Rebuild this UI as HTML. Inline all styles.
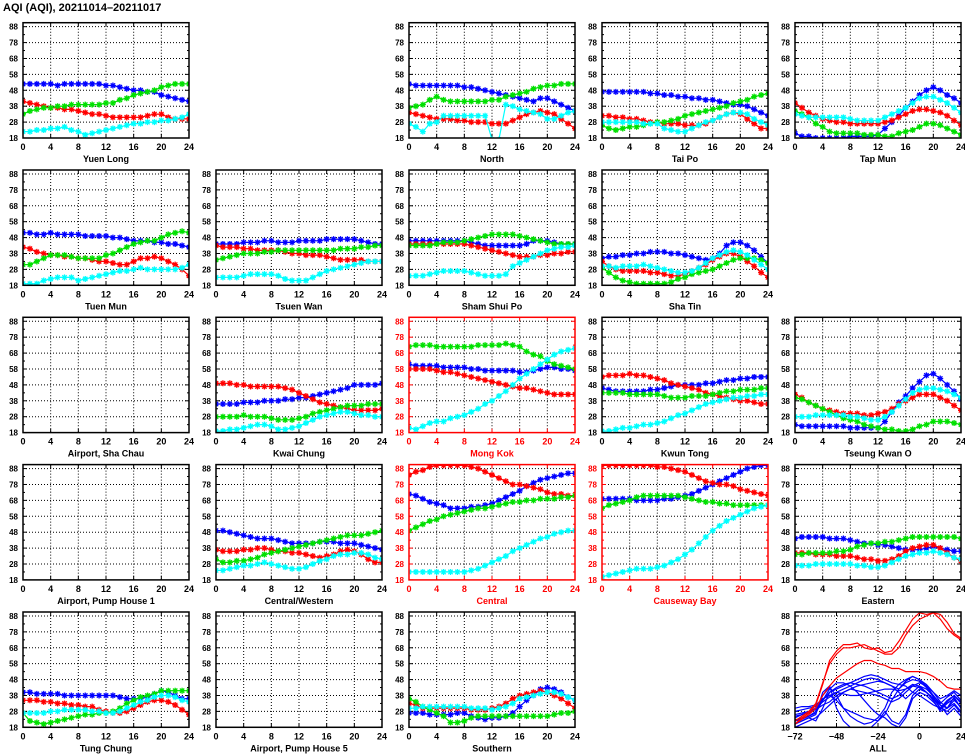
<!DOCTYPE html>
<html><head><meta charset="utf-8"><style>
html,body{margin:0;padding:0;background:#fff;}
svg{display:block;font-family:"Liberation Sans",sans-serif;}
</style></head><body>
<svg id="chart" width="965" height="755" viewBox="0 0 965 755">
<text x="3" y="11" font-size="11" font-weight="bold">AQI (AQI), 20211014–20211017</text>
</svg>
<script>
const hours=[0,1,2,3,4,5,6,7,8,9,10,11,12,13,14,15,16,17,18,19,20,21,22,23,24];
const yTicks=[18,28,38,48,58,68,78,88];
const xTicks=[0,4,8,12,16,20,24];
const allXTicks=[-72,-48,-24,0,24];
const allHours=[-72,-68,-64,-60,-56,-52,-48,-44,-40,-36,-32,-28,-24,-20,-16,-12,-8,-4,0,4,8,12,16,20,24];

const yuenLongB=[52,52,52,52,52,51,52,52,52,52,52,52,51,51,50,49,48,48,47,47,45,44,43,42,41];
const yuenLongR=[41,40,39,38,37,37,36,36,35,34,33,33,32,31,31,31,31,31,32,33,33,31,30,30,30];
const yuenLongG=[33,35,36,37,37,38,38,39,39,39,39,39,40,40,42,43,45,46,47,48,50,51,52,52,52];
const yuenLongC=[22,22,23,23,24,24,25,23,22,20,21,22,23,24,25,26,27,27,28,28,29,29,30,31,33];
const northB=[52,51,51,51,51,51,51,51,50,50,49,48,47,46,45,44,43,42,41,43,43,41,39,37,35];
const northR=[34,33,32,31,30,30,30,29,29,28,28,28,27,27,27,29,31,33,34,35,34,33,30,27,24];
const northG=[37,38,39,42,44,42,41,41,41,41,41,41,42,42,44,45,46,47,49,50,51,51,52,52,52];
const northC=[27,25,22,27,28,32,32,32,32,32,32,32,17,17,39,38,36,35,34,33,30,30,32,34,35];
const taiPoB=[47,47,47,47,47,47,47,46,46,45,45,44,44,43,43,42,42,41,40,39,39,38,36,34,32];
const taiPoR=[32,32,31,31,30,30,29,28,28,27,27,27,26,26,26,27,29,31,33,34,33,30,27,24,24];
const taiPoG=[26,24,23,24,25,25,26,27,28,28,29,30,32,33,34,35,36,37,38,40,41,42,44,45,46];
const taiPoC=[28,28,28,28,28,28,27,27,27,24,23,22,22,24,26,28,29,31,33,34,34,33,30,28,26];
const tapMunB=[21,19,19,18,18,18,18,18,19,19,19,19,20,24,28,32,37,41,45,48,50,48,45,43,40];
const tapMunR=[40,37,34,32,30,29,28,28,27,27,27,27,27,28,29,31,33,35,36,36,35,34,32,29,26];
const tapMunG=[35,33,31,27,25,22,21,21,21,21,20,20,20,19,19,21,22,23,25,27,27,26,24,22,20];
const tapMunC=[33,32,31,31,31,31,31,31,30,29,29,29,29,31,33,35,37,40,43,44,44,42,40,37,34];
const tuenMunB=[51,51,50,50,51,50,50,50,50,49,49,49,49,48,48,47,46,46,46,45,45,44,44,43,42];
const tuenMunR=[42,41,39,38,37,37,36,36,35,35,34,33,33,32,31,31,33,35,35,36,35,33,31,28,24];
const tuenMunG=[31,31,33,35,37,37,37,36,35,35,35,35,37,38,40,42,44,45,46,46,48,50,51,52,51];
const tuenMunC=[19,19,19,21,22,23,23,23,21,22,23,24,25,26,27,27,28,29,28,28,28,28,28,29,31];
const tsuenWanB=[44,44,44,44,45,45,45,46,46,45,45,45,46,46,46,46,47,47,47,47,47,46,45,44,44];
const tsuenWanR=[43,42,42,42,41,41,40,40,40,40,39,38,38,37,37,37,36,35,34,34,34,34,33,33,33];
const tsuenWanG=[34,35,36,37,38,38,38,39,39,40,40,40,40,40,40,40,40,40,41,41,41,42,42,43,43];
const tsuenWanC=[23,23,23,23,24,25,25,25,25,24,22,21,21,21,23,25,27,28,29,30,31,32,33,33,33];
const shamShuiPoB=[46,46,46,46,46,46,46,46,46,45,44,43,43,43,43,43,43,44,46,46,46,45,44,44,44];
const shamShuiPoR=[44,44,44,44,44,44,44,44,44,43,42,41,40,39,38,37,36,36,36,37,37,38,38,39,39];
const shamShuiPoG=[43,43,43,43,44,45,45,45,46,47,48,49,50,50,50,50,49,48,47,46,45,44,44,44,44];
const shamShuiPoC=[24,24,24,25,26,27,27,27,27,26,25,24,24,24,25,30,32,34,36,38,40,41,42,42,43];
const shaTinB=[35,36,36,37,37,38,38,39,39,39,38,38,37,36,35,34,35,38,43,45,45,43,40,36,32];
const shaTinR=[33,30,28,27,27,27,27,26,26,25,24,24,25,27,29,31,34,36,38,38,36,33,30,26,23];
const shaTinG=[29,26,23,21,20,19,19,19,19,19,20,22,23,25,26,27,28,30,32,34,35,35,35,34,32];
const shaTinC=[30,30,29,30,30,30,31,30,29,28,27,26,26,27,29,32,35,37,39,40,39,37,34,31,28];
const kwaiChungB=[36,36,36,36,37,37,37,38,38,38,39,39,40,40,41,42,43,44,45,46,48,48,48,48,49];
const kwaiChungR=[49,49,49,48,48,47,47,47,47,47,46,45,43,41,39,37,36,35,34,33,32,32,32,32,33];
const kwaiChungG=[28,28,28,28,29,28,28,28,27,26,26,26,27,28,30,31,32,33,34,35,35,35,36,36,36];
const kwaiChungC=[19,19,20,20,21,22,23,23,22,20,20,21,22,24,26,28,29,30,31,31,30,29,29,28,28];
const mongKokB=[61,60,60,60,60,59,59,59,59,58,58,57,57,57,57,57,56,56,57,58,59,59,58,58,57];
const mongKokR=[58,58,58,58,57,56,56,55,54,53,52,51,50,49,48,47,46,46,45,44,43,42,42,42,42];
const mongKokG=[72,73,73,73,72,72,72,72,72,72,73,73,73,73,74,73,72,69,67,66,63,61,60,59,58];
const mongKokC=[21,20,22,24,25,25,27,28,29,31,33,36,38,41,44,48,52,55,58,61,64,67,69,70,71];
const kwunTongB=[46,45,44,44,44,44,44,45,45,46,47,48,48,48,48,49,49,50,51,51,52,52,53,53,53];
const kwunTongR=[53,54,54,54,55,54,54,53,52,51,49,48,47,46,45,43,42,41,40,39,38,38,37,36,36];
const kwunTongG=[43,43,43,43,42,42,42,42,42,41,40,40,40,41,41,41,42,43,44,44,45,45,45,46,46];
const kwunTongC=[19,19,20,21,21,22,23,23,24,25,27,29,30,32,34,36,37,38,39,40,40,41,41,42,42];
const tkoB=[23,22,22,22,22,22,22,22,21,21,21,21,21,25,31,37,41,46,50,54,55,52,48,44,39];
const tkoR=[42,40,37,35,33,32,31,30,30,30,29,29,30,31,33,36,38,40,42,42,42,40,38,35,32];
const tkoG=[40,39,37,35,33,31,29,27,26,25,23,22,21,20,20,19,19,20,22,23,25,25,25,24,23];
const tkoC=[28,28,28,29,29,29,29,29,28,28,27,26,26,28,31,35,39,43,45,46,46,45,44,42,40];
const cwB=[49,49,48,47,46,45,44,44,44,43,42,41,41,41,41,42,42,42,41,41,41,40,39,38,37];
const cwR=[37,36,36,36,37,37,38,38,37,36,36,35,35,34,33,32,33,34,36,37,36,34,31,29,29];
const cwG=[31,29,29,30,30,31,32,34,35,36,37,38,39,40,41,42,43,44,45,46,46,46,47,48,49];
const cwC=[24,24,25,26,27,27,28,29,28,27,26,25,25,26,28,30,31,33,34,34,35,35,34,32,31];
const centralB=[72,71,69,67,66,65,63,63,63,64,64,65,66,68,70,72,74,77,79,81,82,83,84,85,85];
const centralR=[84,86,87,89,90,90,90,90,90,89,88,86,84,82,80,78,78,77,76,75,73,72,72,71,71];
const centralG=[49,51,53,55,56,58,59,60,61,62,63,63,64,65,66,67,67,68,68,69,69,69,70,70,71];
const centralC=[23,23,23,23,23,23,23,23,23,24,25,27,29,31,33,36,38,40,42,44,45,47,48,49,49];
const cbB=[69,69,69,69,69,68,68,68,68,69,69,70,71,72,74,76,78,80,82,84,86,88,89,90,90];
const cbR=[90,90,90,90,90,90,90,90,89,89,88,87,86,84,82,80,79,78,78,77,75,74,73,72,71];
const cbG=[63,65,66,67,68,70,71,71,71,71,71,71,70,69,68,67,67,66,66,65,65,65,65,65,65];
const cbC=[20,21,22,23,24,25,25,25,26,27,29,31,34,37,41,45,49,52,55,57,59,61,63,64,65];
const easternB=[44,45,45,45,45,44,44,44,43,42,41,41,40,40,39,38,37,37,37,38,39,38,37,36,36];
const easternR=[35,35,35,34,34,34,33,33,33,32,31,31,30,30,31,33,36,38,39,40,40,38,35,32,30];
const easternG=[34,34,35,35,35,35,36,36,37,39,40,41,41,42,42,43,44,45,45,45,45,45,45,45,44];
const easternC=[27,27,27,28,28,28,28,28,28,27,27,26,26,27,29,31,33,34,35,35,36,35,34,32,31];
const tungChungB=[40,40,39,39,39,39,38,38,38,38,38,38,38,38,37,36,36,36,37,39,41,40,38,36,36];
const tungChungR=[35,35,35,34,34,33,33,32,32,31,31,29,28,27,27,28,30,32,34,35,35,34,32,29,26];
const tungChungG=[27,22,21,20,21,22,23,24,25,26,26,27,27,28,30,33,35,37,38,39,41,41,41,41,41];
const tungChungC=[27,27,27,27,28,28,29,29,29,29,28,28,27,27,28,30,32,34,35,37,38,38,37,35,34];
const southernB=[27,27,27,26,26,26,26,27,27,25,24,23,24,24,25,27,31,35,38,42,43,42,40,37,35];
const southernR=[33,32,30,30,30,30,30,30,30,29,29,29,30,31,33,36,38,39,40,41,40,38,36,33,30];
const southernG=[36,34,31,29,27,25,21,21,22,24,25,25,25,25,25,25,25,25,25,25,25,26,27,27,28];
const southernC=[30,30,31,31,31,31,31,31,31,30,30,30,29,30,31,33,36,37,38,39,40,40,39,37,35];

const allRed1=[20,24,27,32,45,60,66,70,70,71,68,67,68,65,66,72,79,86,90,89,90,86,80,76,73];
const allRed2=[22,25,28,33,46,58,64,68,68,69,70,68,66,64,64,68,76,82,86,88,90,89,84,77,74];
const allRed3=[20,23,26,30,38,44,49,52,55,58,60,60,58,57,55,55,53,53,53,52,50,47,43,42,42];
const allBlue1=[22,24,25,28,38,43,38,30,25,22,20,21,24,30,40,45,44,40,38,35,32,30,35,38,33];
const allBlue2=[25,26,27,30,35,40,42,44,46,48,50,51,50,48,46,45,48,50,48,44,38,33,37,40,35];
const allBlue3=[20,22,24,22,30,40,43,45,46,45,44,42,40,38,36,38,42,45,44,40,35,28,30,37,30];
const allBlue4=[28,29,30,31,36,38,35,30,28,26,24,23,22,26,35,42,47,50,48,45,40,34,30,33,28];
const allBlue5=[18,20,22,24,28,32,36,40,42,44,45,46,47,46,44,40,36,40,44,42,38,32,26,30,25];
const allBlue6=[24,26,28,30,34,37,40,42,44,46,48,49,48,46,44,42,46,48,47,43,37,30,34,38,34];
const allBlue7=[20,22,24,26,40,44,30,22,18,17,16,18,22,28,22,20,26,38,42,40,36,30,28,32,27];
const allBlue8=[26,27,28,29,32,34,38,40,42,41,40,39,38,36,34,36,40,44,46,44,40,36,38,41,38];
const allBlue9=[22,23,25,27,35,42,46,46,44,40,35,30,26,24,20,18,24,36,40,38,34,29,33,36,30];
const allBlue10=[30,31,31,32,36,38,40,39,38,38,39,40,41,42,42,41,42,44,43,40,36,32,30,35,31];

const colX=[23,216,409,602,795];
const rowY=[22.7,170,317.3,464.6,612];
const PW=166, PH=115.3, YMIN=18, YMAX=90.5;
const COLORS={B:"#0000ff",R:"#ff0000",G:"#00e000",C:"#00ffff"};
const NS="http://www.w3.org/2000/svg";
const svg=document.getElementById('chart');

function mk(tag,attrs,parent){const e=document.createElementNS(NS,tag);for(const k in attrs)e.setAttribute(k,attrs[k]);(parent||svg).appendChild(e);return e;}
function slug(s){return s.toLowerCase().replace(/[^a-z0-9]+/g,'-').replace(/-$/,'');}

function drawPanel(p){
  const x0=colX[p.c], y0=rowY[p.r];
  const xmin=p.all?-72:0, xmax=24;
  const xs=v=>x0+(v-xmin)/(xmax-xmin)*PW;
  const ys=v=>y0+(YMAX-v)/(YMAX-YMIN)*PH;
  const col=p.red?"#ff0000":"#000";
  const g=mk('g',{});
  
  
  const ticks=p.all?allXTicks:xTicks;
  ticks.forEach((t,i)=>{
    if(i>0&&i<ticks.length-1){const l=mk('line',{x1:xs(t),x2:xs(t),y1:y0,y2:y0+PH,stroke:"#000","stroke-width":1,"stroke-dasharray":"1,2"},g);
      }
    const tx=mk('text',{x:xs(t),y:y0+PH+12,"font-size":9,"font-weight":"bold","text-anchor":"middle",fill:col},g);
    tx.textContent=t<0?"\u2212"+(-t):t;
    
    mk('line',{x1:xs(t),x2:xs(t),y1:y0+PH,y2:y0+PH-4,stroke:col},g);
    mk('line',{x1:xs(t),x2:xs(t),y1:y0,y2:y0+4,stroke:col},g);
  });
  yTicks.forEach(t=>{
    if(t>YMIN){const l=mk('line',{x1:x0,x2:x0+PW,y1:ys(t),y2:ys(t),stroke:"#000","stroke-width":1,"stroke-dasharray":"1,2"},g);
      }
    const ty=mk('text',{x:x0-5,y:ys(t)+3,"font-size":8,"font-weight":"bold","text-anchor":"end",fill:col},g);
    ty.textContent=t;
    
    mk('line',{x1:x0,x2:x0+4,y1:ys(t),y2:ys(t),stroke:col},g);
    mk('line',{x1:x0+PW,x2:x0+PW-4,y1:ys(t),y2:ys(t),stroke:col},g);
    if(t+5<YMAX){mk('line',{x1:x0,x2:x0+2,y1:ys(t+5),y2:ys(t+5),stroke:col},g);mk('line',{x1:x0+PW,x2:x0+PW-2,y1:ys(t+5),y2:ys(t+5),stroke:col},g);}
  });
  const clipId='clip'+p.r+'_'+p.c;
  const cp=mk('clipPath',{id:clipId},g);mk('rect',{x:x0,y:y0,width:PW,height:PH},cp);
  const sg=mk('g',{"clip-path":"url(#"+clipId+")"},g);
  (p.series||[]).forEach(s=>{
    const xsArr=p.all?allHours:hours;
    const pts=s.v.map((v,i)=>xs(xsArr[i]).toFixed(1)+","+ys(v).toFixed(1)).join(" ");
    const pl=mk('polyline',{points:pts,fill:"none",stroke:COLORS[s.k],"stroke-width":1.2},sg);
    
    
    if(!p.all){
      let d="";
      s.v.forEach((v,i)=>{const x=xs(hours[i]),y=ys(v);
        d+=`M${x-3},${y}h6M${x},${y-3}v6M${x-2.2},${y-2.2}l4.4,4.4M${x-2.2},${y+2.2}l4.4,-4.4`;});
      const m=mk('path',{d:d,stroke:COLORS[s.k],"stroke-width":1.3,fill:"none"},sg);
      
      
    }
  });
  const fr=mk('rect',{x:x0,y:y0,width:PW,height:PH,fill:"none",stroke:col,"stroke-width":1.5},g);
  
  const ti=mk('text',{x:x0+PW/2,y:y0+PH+24,"font-size":9,"font-weight":"bold","text-anchor":"middle",fill:col},g);
  ti.textContent=p.name;
  
}
function S(B,R,G,C){return [{k:"B",n:"blue",v:B},{k:"R",n:"red",v:R},{k:"G",n:"green",v:G},{k:"C",n:"cyan",v:C}];}
const panels=[
 {r:0,c:0,name:"Yuen Long",series:S(yuenLongB,yuenLongR,yuenLongG,yuenLongC)},
 {r:0,c:2,name:"North",series:S(northB,northR,northG,northC)},
 {r:0,c:3,name:"Tai Po",series:S(taiPoB,taiPoR,taiPoG,taiPoC)},
 {r:0,c:4,name:"Tap Mun",series:S(tapMunB,tapMunR,tapMunG,tapMunC)},
 {r:1,c:0,name:"Tuen Mun",series:S(tuenMunB,tuenMunR,tuenMunG,tuenMunC)},
 {r:1,c:1,name:"Tsuen Wan",series:S(tsuenWanB,tsuenWanR,tsuenWanG,tsuenWanC)},
 {r:1,c:2,name:"Sham Shui Po",series:S(shamShuiPoB,shamShuiPoR,shamShuiPoG,shamShuiPoC)},
 {r:1,c:3,name:"Sha Tin",series:S(shaTinB,shaTinR,shaTinG,shaTinC)},
 {r:2,c:0,name:"Airport, Sha Chau"},
 {r:2,c:1,name:"Kwai Chung",series:S(kwaiChungB,kwaiChungR,kwaiChungG,kwaiChungC)},
 {r:2,c:2,name:"Mong Kok",red:true,series:S(mongKokB,mongKokR,mongKokG,mongKokC)},
 {r:2,c:3,name:"Kwun Tong",series:S(kwunTongB,kwunTongR,kwunTongG,kwunTongC)},
 {r:2,c:4,name:"Tseung Kwan O",series:S(tkoB,tkoR,tkoG,tkoC)},
 {r:3,c:0,name:"Airport, Pump House 1"},
 {r:3,c:1,name:"Central/Western",series:S(cwB,cwR,cwG,cwC)},
 {r:3,c:2,name:"Central",red:true,series:S(centralB,centralR,centralG,centralC)},
 {r:3,c:3,name:"Causeway Bay",red:true,series:S(cbB,cbR,cbG,cbC)},
 {r:3,c:4,name:"Eastern",series:S(easternB,easternR,easternG,easternC)},
 {r:4,c:0,name:"Tung Chung",series:S(tungChungB,tungChungR,tungChungG,tungChungC)},
 {r:4,c:1,name:"Airport, Pump House 5"},
 {r:4,c:2,name:"Southern",series:S(southernB,southernR,southernG,southernC)},
 {r:4,c:4,name:"ALL",all:true,series:[
   {k:"B",n:"blue-1",v:allBlue1},{k:"B",n:"blue-2",v:allBlue2},{k:"B",n:"blue-3",v:allBlue3},
   {k:"B",n:"blue-4",v:allBlue4},{k:"B",n:"blue-5",v:allBlue5},{k:"B",n:"blue-6",v:allBlue6},
   {k:"B",n:"blue-7",v:allBlue7},{k:"B",n:"blue-8",v:allBlue8},{k:"B",n:"blue-9",v:allBlue9},
   {k:"B",n:"blue-10",v:allBlue10},
   {k:"R",n:"red-1",v:allRed1},{k:"R",n:"red-2",v:allRed2},{k:"R",n:"red-3",v:allRed3}]}
];
panels.forEach(drawPanel);
</script>
</body></html>
